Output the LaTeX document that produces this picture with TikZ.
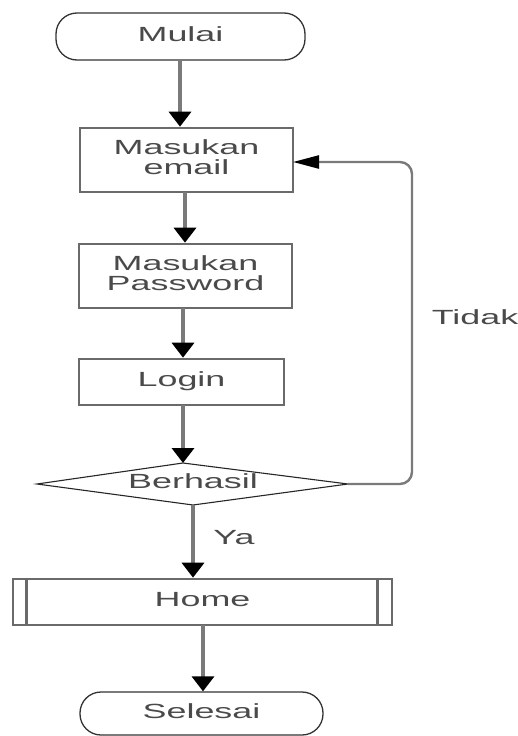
\documentclass[tikz,border=0pt]{standalone}
\usepackage{fontspec}
\setmainfont{Liberation Sans}
\usepackage{graphicx}
\usetikzlibrary{arrows.meta}
\definecolor{txt}{HTML}{4A4A4A}
\definecolor{ln}{HTML}{7A7A7A}
\definecolor{bx}{HTML}{6A6A6A}
\newcommand\wtxt[1]{\scalebox{1.75}[1]{\fontsize{20.5}{18}\selectfont\begin{tabular}{@{}c@{}}#1\end{tabular}}}
\begin{document}
\begin{tikzpicture}[x=1pt,y=-1pt,
  term/.style={draw=black!80, line width=1.3pt, rounded corners=21pt, inner sep=0pt, text=txt},
  proc/.style={draw=bx, line width=2.6pt, inner sep=0pt, text=txt},
  conn/.style={draw=ln, line width=3.4pt, -{Triangle[width=22pt,length=15pt,color=black,fill=black]}},
  loopconn/.style={draw=ln, line width=2.4pt, rounded corners=12pt, -{Triangle[width=13pt,length=26pt,color=black,fill=black]}},
  lbl/.style={text=txt, inner sep=0pt}]
\useasboundingbox (0,0) rectangle (518,736);
\node[term, minimum width=249pt, minimum height=47pt] (mulai) at (180.5,36.5) {\wtxt{Mulai}};
\node[proc, minimum width=213pt, minimum height=64pt] (email) at (186.5,160) {\wtxt{Masukan\\email}};
\node[proc, minimum width=213pt, minimum height=64pt] (pass) at (185.5,276) {\wtxt{Masukan\\Password}};
\node[proc, minimum width=205pt, minimum height=46pt] (login) at (181.5,382) {\wtxt{Login}};
% decision
\coordinate (dT) at (183,463);
\coordinate (dR) at (348,484);
\coordinate (dB) at (193,505);
\coordinate (dL) at (37,484);
\draw[line width=1.1pt, black!85] (dT) -- (dR) -- (dB) -- (dL) -- cycle;
\node[lbl] (berhasil) at (193,484) {\wtxt{Berhasil}};
% predefined process
\node[proc, minimum width=379pt, minimum height=46pt] (home) at (202.5,602) {\wtxt{Home}};
\draw[bx, line width=2.6pt] ([xshift=15pt]home.north west) -- ([xshift=15pt]home.south west);
\draw[bx, line width=2.6pt] ([xshift=-16pt]home.north east) -- ([xshift=-16pt]home.south east);
\node[term, minimum width=243pt, minimum height=43pt] (selesai) at (201.5,713.5) {\wtxt{Selesai}};
% connectors
\draw[conn] (180,60) coordinate (a1) -- (a1 |- email.north);
\draw[conn] (185,192) coordinate (a2) -- (a2 |- pass.north);
\draw[conn] (183,308) coordinate (a3) -- (a3 |- login.north);
\draw[conn] (183,405) coordinate (a4) -- (dT);
\draw[conn] (dB) -- (dB |- home.north);
\draw[conn] (203,625) coordinate (a6) -- (a6 |- selesai.north);
\coordinate (ein) at (293,162);
\draw[loopconn] (dR) -- (412,484) -- (412,162) -- (ein);
\node[lbl] (ya) at (234,540) {\wtxt{Ya}};
\node[lbl] (tidak) at (475,320) {\wtxt{Tidak}};
\end{tikzpicture}
\end{document}
